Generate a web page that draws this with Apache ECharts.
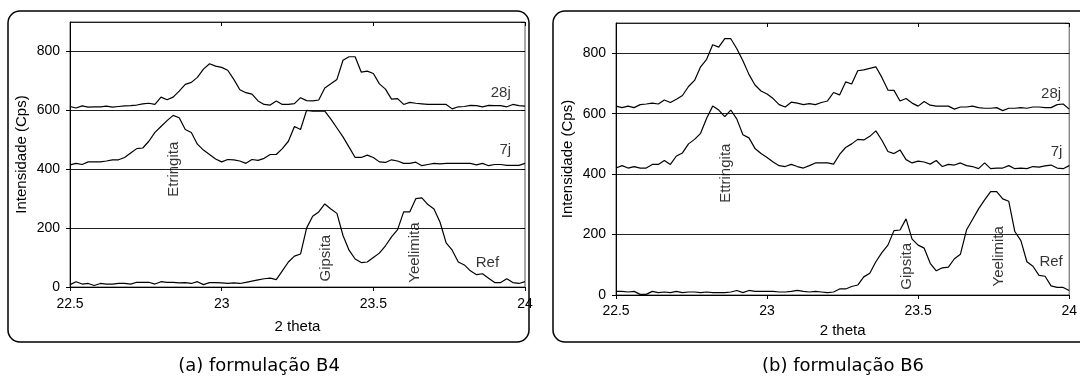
<!DOCTYPE html>
<html>
<head>
<meta charset="utf-8">
<script src="https://cdn.jsdelivr.net/npm/echarts@6/dist/echarts.min.js"></script>
<style>
  html, body { margin: 0; background: #fff; }
  #chart { width: 1080px; height: 382px; }
</style>
</head>
<body>
<div id="chart"></div>
<script>
// 2 theta positions (step 0.02)
const theta = [
  22.50, 22.52, 22.54, 22.56, 22.58, 22.60, 22.62, 22.64, 22.66, 22.68,
  22.70, 22.72, 22.74, 22.76, 22.78, 22.80, 22.82, 22.84, 22.86, 22.88,
  22.90, 22.92, 22.94, 22.96, 22.98, 23.00, 23.02, 23.04, 23.06, 23.08,
  23.10, 23.12, 23.14, 23.16, 23.18, 23.20, 23.22, 23.24, 23.26, 23.28,
  23.30, 23.32, 23.34, 23.36, 23.38, 23.40, 23.42, 23.44, 23.46, 23.48,
  23.50, 23.52, 23.54, 23.56, 23.58, 23.60, 23.62, 23.64, 23.66, 23.68,
  23.70, 23.72, 23.74, 23.76, 23.78, 23.80, 23.82, 23.84, 23.86, 23.88,
  23.90, 23.92, 23.94, 23.96, 23.98, 24.00
];

// (a) formulação B4
const b4_28j = [
  613, 608, 615, 611, 612, 612, 614, 611, 613, 615, 616, 618, 622, 624, 620, 645, 636, 645, 665, 688, 695, 712, 740, 758, 750,
  746, 736, 705, 670, 660, 655, 632, 620, 618, 632, 620, 620, 623, 643, 633, 632, 635, 676, 690, 705, 770, 782, 782, 730, 733,
  725, 690, 672, 638, 640, 620, 627, 624, 622, 620, 620, 620, 620, 605, 612, 613, 617, 616, 612, 617, 616, 616, 612, 620, 616,
  614
];
const b4_7j = [
  415, 420, 416, 425, 425, 425, 428, 432, 432, 440, 455, 470, 472, 495, 525, 545, 565, 583, 575, 535, 525, 485, 465, 450, 435,
  425, 433, 432, 428, 420, 433, 430, 437, 450, 450, 470, 495, 545, 535, 600, 597, 597, 597, 570, 540, 510, 475, 440, 440, 448,
  440, 425, 423, 432, 428, 420, 420, 424, 412, 416, 420, 418, 420, 420, 420, 420, 420, 415, 420, 412, 416, 416, 413, 413, 413,
  420
];
const b4_ref = [
  8, 18, 10, 12, 5, 12, 10, 10, 12, 12, 10, 16, 16, 16, 10, 18, 16, 16, 14, 15, 12, 18, 8, 15, 15,
  14, 12, 14, 12, 16, 20, 24, 28, 30, 25, 55, 85, 105, 112, 200, 240, 255, 282, 265, 250, 175, 125, 95, 83, 85,
  100, 115, 140, 170, 195, 255, 255, 300, 303, 280, 265, 220, 150, 125, 85, 75, 55, 42, 45, 30, 15, 15, 28, 15, 12,
  18
];

// (b) formulação B6
const b6_28j = [
  625, 620, 625, 620, 630, 632, 635, 632, 645, 637, 648, 660, 690, 710, 755, 780, 828, 820, 848, 848, 815, 775, 730, 695, 675,
  665, 650, 630, 622, 638, 635, 630, 633, 630, 637, 642, 670, 662, 705, 698, 742, 745, 750, 755, 720, 678, 677, 642, 650, 635,
  625, 640, 628, 625, 625, 625, 615, 622, 622, 625, 620, 618, 618, 620, 610, 618, 618, 620, 618, 622, 622, 620, 620, 630, 632,
  615
];
const b6_7j = [
  420, 428, 420, 425, 420, 420, 432, 432, 445, 432, 460, 470, 500, 515, 535, 585, 625, 612, 590, 612, 582, 530, 520, 485, 468,
  455, 440, 428, 425, 432, 425, 420, 428, 437, 437, 437, 433, 465, 488, 500, 515, 513, 525, 543, 512, 475, 468, 480, 448, 437,
  443, 440, 433, 445, 425, 432, 430, 437, 428, 425, 418, 437, 418, 420, 420, 428, 418, 420, 418, 425, 423, 427, 430, 420, 418,
  428
];
const b6_ref = [
  12, 12, 10, 12, 2, 2, 12, 8, 10, 8, 12, 8, 10, 10, 8, 10, 8, 8, 8, 10, 15, 8, 15, 12, 12,
  12, 12, 10, 10, 12, 15, 12, 10, 12, 10, 8, 10, 20, 20, 28, 33, 60, 72, 110, 140, 165, 213, 215, 252, 185,
  165, 155, 105, 80, 90, 92, 120, 135, 215, 250, 285, 315, 342, 342, 318, 310, 210, 180, 110, 95, 65, 62, 30, 25, 25,
  15
];

// text annotations: [name, 2theta, intensity, vertical]
const notesB4 = [
  ["Etringita", 22.843, 400, true],
  ["Gipsita", 23.342, 98, true],
  ["Yeelimita", 23.637, 117, true],
  ["28j", 23.92, 661, false],
  ["7j", 23.935, 466, false],
  ["Ref", 23.876, 81, false]
];
const notesB6 = [
  ["Ettringita", 22.865, 403, true],
  ["Gipsita", 23.463, 95, true],
  ["Yeelimita", 23.768, 128, true],
  ["28j", 23.94, 664, false],
  ["7j", 23.958, 475, false],
  ["Ref", 23.94, 110, false]
];

const xTicks = ["22.5", "23", "23.5", "24"];
const captions = ["(a) formulação B4", "(b) formulação B6"];

const font = "Liberation Sans, Arial, sans-serif";
const pairs = (ys) => theta.map((t, i) => [t, ys[i]]);

function lineSeries(ys, idx) {
  return {
    type: "line",
    xAxisIndex: idx,
    yAxisIndex: idx,
    data: pairs(ys),
    showSymbol: false,
    symbol: "none",
    lineStyle: { color: "#000", width: 1.2 },
    animation: false,
    z: 3
  };
}

function noteSeries(notes, idx) {
  return {
    type: "scatter",
    xAxisIndex: idx,
    yAxisIndex: idx,
    symbolSize: 0,
    animation: false,
    silent: true,
    z: 4,
    data: notes.map((n) => ({
      name: n[0],
      value: [n[1], n[2]],
      label: { rotate: n[3] ? 90 : 0 }
    })),
    label: {
      show: true,
      position: "inside",
      formatter: "{b}",
      color: "#000",
      fontFamily: font,
      fontSize: 15
    }
  };
}

function xAxis(idx, gap, labelMargin) {
  return {
    type: "value",
    gridIndex: idx,
    min: 22.5,
    max: 24,
    interval: 0.5,
    name: "2 theta",
    nameLocation: "middle",
    nameGap: gap,
    nameTextStyle: { color: "#000", fontFamily: font, fontSize: 15 },
    axisLine: { show: true, onZero: false, lineStyle: { color: "#000", width: 1 } },
    axisTick: { show: true, length: 4, lineStyle: { color: "#000" } },
    axisLabel: {
      color: "#000", fontFamily: font, fontSize: 14, margin: labelMargin,
      formatter: (v) => xTicks[Math.round((v - 22.5) / 0.5)]
    },
    splitLine: { show: false }
  };
}

function yAxis(idx) {
  return {
    type: "value",
    gridIndex: idx,
    min: 0,
    max: 900,
    interval: 200,
    name: "Intensidade (Cps)",
    nameLocation: "middle",
    nameGap: 41,
    nameTextStyle: { color: "#000", fontFamily: font, fontSize: 15 },
    axisLine: { show: true, lineStyle: { color: "#000", width: 1 } },
    axisTick: { show: true, length: 4, lineStyle: { color: "#000" } },
    axisLabel: { color: "#000", fontFamily: font, fontSize: 14, margin: 10, showMaxLabel: false },
    splitLine: { show: true, lineStyle: { color: "#222", width: 1 } }
  };
}

// twin axes that only draw the inner half of the crossing ticks
function innerX(idx) {
  return {
    type: "value", gridIndex: idx, min: 22.5, max: 24, interval: 0.5,
    axisLine: { show: false, onZero: false },
    axisTick: { show: true, inside: true, length: 4, lineStyle: { color: "#000" } },
    axisLabel: { show: false },
    splitLine: { show: false }
  };
}
function innerY(idx) {
  return {
    type: "value", gridIndex: idx, min: 0, max: 900, interval: 200,
    axisLine: { show: false },
    axisTick: { show: true, inside: true, length: 4, lineStyle: { color: "#000" } },
    axisLabel: { show: false },
    splitLine: { show: false }
  };
}

const chart = echarts.init(document.getElementById("chart"));
chart.setOption({
  backgroundColor: "#fff",
  animation: false,
  grid: [
    { left: 70, top: 22, width: 455, height: 265, show: true, borderColor: "#555", borderWidth: 1 },
    { left: 616, top: 23, width: 462, height: 272, show: true, borderColor: "#555", borderWidth: 1 }
  ],
  xAxis: [xAxis(0, 32, 10), xAxis(1, 22, 9), innerX(0), innerX(1)],
  yAxis: [yAxis(0), yAxis(1), innerY(0), innerY(1)],
  graphic: [
    {
      type: "rect", z: 0, silent: true,
      shape: { x: 8, y: 11, width: 521, height: 331, r: 12 },
      style: { fill: "none", stroke: "#000", lineWidth: 1.5 }
    },
    {
      type: "rect", z: 0, silent: true,
      shape: { x: 553, y: 11, width: 540, height: 331, r: 12 },
      style: { fill: "none", stroke: "#000", lineWidth: 1.5 }
    },
    {
      type: "text", x: 259, y: 366,
      style: {
        text: captions[0], fill: "#000", font: "18px 'DejaVu Sans'",
        align: "center", verticalAlign: "middle"
      }
    },
    {
      type: "text", x: 843, y: 366,
      style: {
        text: captions[1], fill: "#000", font: "18px 'DejaVu Sans'",
        align: "center", verticalAlign: "middle"
      }
    }
  ],
  series: [
    lineSeries(b4_28j, 0),
    lineSeries(b4_7j, 0),
    lineSeries(b4_ref, 0),
    noteSeries(notesB4, 0),
    lineSeries(b6_28j, 1),
    lineSeries(b6_7j, 1),
    lineSeries(b6_ref, 1),
    noteSeries(notesB6, 1)
  ]
});
</script>
</body>
</html>
